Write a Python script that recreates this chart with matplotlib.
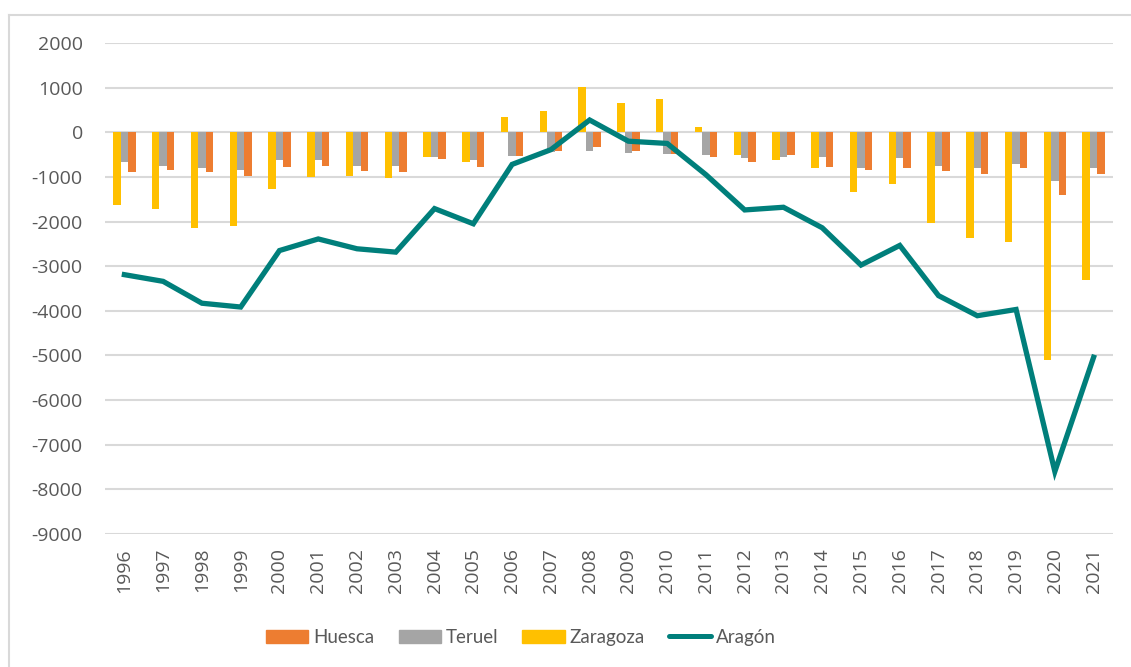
"""Saldo vegetativo por provincia y total de Aragón, 1996-2021."""

import matplotlib.pyplot as plt
import numpy as np
from matplotlib.lines import Line2D
from matplotlib.patches import Patch

years = [str(y) for y in range(1996, 2022)]

huesca = [-900, -840, -890, -975, -775, -765, -860, -890, -600, -775,
          -535, -430, -330, -410, -495, -550, -655, -520, -775, -855,
          -795, -860, -930, -800, -1400, -945]
teruel = [-670, -750, -800, -850, -610, -630, -765, -765, -555, -625,
          -535, -440, -415, -475, -495, -520, -570, -550, -565, -790,
          -580, -760, -810, -705, -1095, -795]
zaragoza = [-1640, -1730, -2150, -2100, -1270, -1000, -975, -1035, -555, -655,
            340, 480, 1010, 660, 740, 120, -505, -610, -795, -1340,
            -1170, -2035, -2370, -2450, -5105, -3320]
aragon = [-3190, -3340, -3830, -3915, -2650, -2390, -2610, -2685, -1710, -2050,
          -720, -390, 275, -200, -250, -950, -1740, -1680, -2140, -2975,
          -2535, -3660, -4110, -3970, -7600, -5040]

C_HUESCA = "#ED7D31"
C_TERUEL = "#A5A5A5"
C_ZARAGOZA = "#FFC000"
C_ARAGON = "#007F7B"
C_TEXT = "#595959"
C_GRID = "#D9D9D9"

plt.rcParams["axes.unicode_minus"] = False
plt.rcParams["font.family"] = ["Open Sans", "DejaVu Sans"]

fig = plt.figure(figsize=(11.31, 6.67), dpi=100)
ax = fig.add_axes([105 / 1131, 1 - 534 / 667, 1008 / 1131, 491 / 667])

x = np.arange(len(years))
w = 0.192
ax.bar(x - w, zaragoza, w, color=C_ZARAGOZA, zorder=2)
ax.bar(x, teruel, w, color=C_TERUEL, zorder=2)
ax.bar(x + w, huesca, w, color=C_HUESCA, zorder=2)
ax.plot(x, aragon, color=C_ARAGON, linewidth=3.8, zorder=3,
        solid_joinstyle="miter")

ax.set_xlim(-0.5, len(years) - 0.5)
ax.set_ylim(-9000, 2000)
ax.set_yticks(np.arange(-9000, 2001, 1000))
ax.set_xticks(x)
ax.set_xticklabels(years, rotation=90)
ax.tick_params(axis="both", length=0, labelsize=14, colors=C_TEXT)
ax.tick_params(axis="y", pad=16)
ax.tick_params(axis="x", pad=10)
ax.grid(axis="y", color=C_GRID, linewidth=1.5, zorder=0)
ax.set_axisbelow(True)
for s in ax.spines.values():
    s.set_visible(False)

handles = [
    Patch(color=C_HUESCA, label="Huesca"),
    Patch(color=C_TERUEL, label="Teruel"),
    Patch(color=C_ZARAGOZA, label="Zaragoza"),
    Line2D([], [], color=C_ARAGON, linewidth=3.6, solid_capstyle="round",
           label="Aragón"),
]
leg = fig.legend(handles=handles, loc="center", ncol=4,
                 bbox_to_anchor=(521 / 1131, 1 - 637.5 / 667), frameon=False,
                 handlelength=2.25, handleheight=0.75, handletextpad=0.25,
                 columnspacing=1.3,
                 prop={"family": ["Lato", "DejaVu Sans"], "size": 13.5})
for t in leg.get_texts():
    t.set_color(C_TEXT)

# chart frame (only top and left edges are visible in the crop)
fig.add_artist(Line2D([8.5 / 1131, 8.5 / 1131], [0, 1 - 14.5 / 667],
                      color=C_GRID, linewidth=1.5))
fig.add_artist(Line2D([8.5 / 1131, 1], [1 - 14.5 / 667, 1 - 14.5 / 667],
                      color=C_GRID, linewidth=1.5))

fig.savefig("out.png", dpi=100)
plt.close(fig)
